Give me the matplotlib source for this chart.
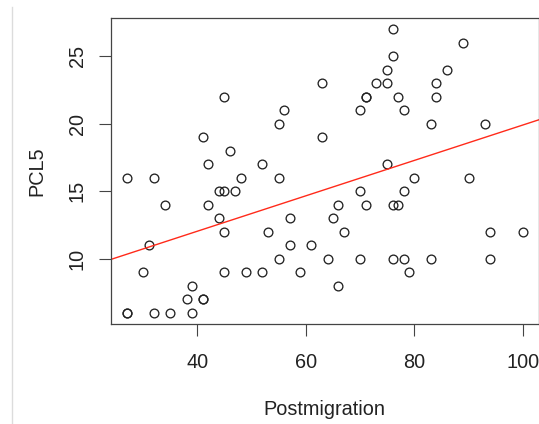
import numpy as np
import matplotlib.pyplot as plt
from matplotlib.lines import Line2D

plt.rcParams['font.family'] = ['Liberation Sans', 'DejaVu Sans']

# Postmigration score vs PCL5
postmigration = [45, 56, 55, 41, 46, 42, 52, 63, 63,
                 76, 89, 76, 75, 86, 73, 75, 84, 71, 71, 77, 84, 70, 78, 83, 93, 75,
                 27, 32, 48, 55, 44, 45, 47, 34, 42, 44, 45, 57, 53, 31, 57, 61, 55,
                 30, 45, 49, 52, 59, 39, 38, 41, 41, 27, 27, 32, 35, 39,
                 80, 90, 70, 78, 66, 71, 76, 77, 65, 67, 94, 100, 64, 70, 76, 78, 83,
                 94, 79, 66]
pcl5 = [22, 21, 20, 19, 18, 17, 17, 23, 19,
        27, 26, 25, 24, 24, 23, 23, 23, 22, 22, 22, 22, 21, 21, 20, 20, 17,
        16, 16, 16, 16, 15, 15, 15, 14, 14, 13, 12, 13, 12, 11, 11, 11, 10,
        9, 9, 9, 9, 9, 8, 7, 7, 7, 6, 6, 6, 6, 6,
        16, 16, 15, 15, 14, 14, 14, 14, 13, 12, 12, 12, 10, 10, 10, 10, 10,
        10, 9, 8]
x_ticks = [40, 60, 80, 100]
y_ticks = [10, 15, 20, 25]

x = np.array(postmigration)
y = np.array(pcl5)

fig = plt.figure(figsize=(5.39, 4.24), dpi=100)
ax = fig.add_axes([111/539, 1 - 324/424, 427.7/539, 306/424])

ax.plot(x, y, 'o', markersize=6.3, markerfacecolor='none',
        markeredgecolor='#222222', markeredgewidth=0.95)

# least squares line, like abline(lm(...))
slope, intercept = np.polyfit(x, y, 1)
xs = np.array([0, 120])
ax.plot(xs, slope * xs + intercept, color='#ff2a1a', linewidth=1.0)

# R style 4% padding
xr = x.max() - x.min()
yr = y.max() - y.min()
ax.set_xlim(x.min() - 0.04 * xr, x.max() + 0.04 * xr)
ax.set_ylim(y.min() - 0.04 * yr, y.max() + 0.04 * yr)

ax.set_xticks(x_ticks)
ax.set_yticks(y_ticks)
ax.set_yticklabels([str(v) for v in y_ticks], rotation=90, va='center')
ax.tick_params(length=8.6, width=0.8, color='#444444', labelsize=14.3,
               labelcolor='#222222')
ax.tick_params(axis='x', pad=12.5)
ax.tick_params(axis='y', pad=9)
for s in ax.spines.values():
    s.set_color('#444444')
    s.set_linewidth(0.9)

ax.set_xlabel('Postmigration', fontsize=14.3, color='#222222', labelpad=20)
ax.set_ylabel('PCL5', fontsize=14.3, color='#222222', labelpad=15)

# faint border line on the left edge of the screenshot
fig.add_artist(Line2D([12/539, 12/539], [0, 1 - 7/424], color='#dcdcdc',
                      linewidth=1.0))

plt.savefig('out.png', dpi=100)
